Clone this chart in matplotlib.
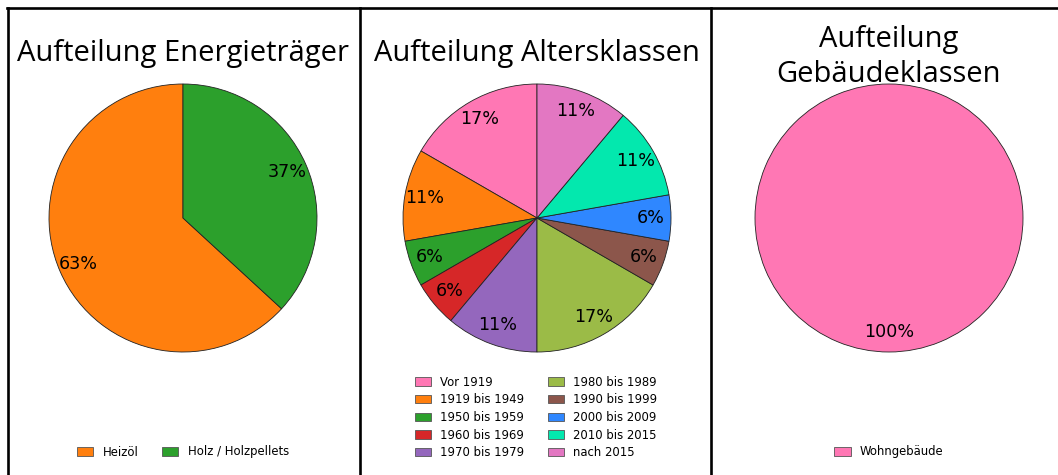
import matplotlib.pyplot as plt
from matplotlib.lines import Line2D
from matplotlib.patches import Patch

# Daten fuer die drei Kreisdiagramme
energie_labels = ['Heizöl', 'Holz / Holzpellets']
energie_werte = [12, 7]
energie_farben = ['#ff7f0e', '#2ca02c']

alter_labels = ['Vor 1919', '1919 bis 1949', '1950 bis 1959', '1960 bis 1969', '1970 bis 1979',
                '1980 bis 1989', '1990 bis 1999', '2000 bis 2009', '2010 bis 2015', 'nach 2015']
alter_werte = [3, 2, 1, 1, 2, 3, 1, 1, 2, 2]
alter_farben = ['#ff77b4', '#ff7f0e', '#2ca02c', '#d62728', '#9467bd',
                '#9bbb47', '#8c564b', '#2f87ff', '#03e8ae', '#e377c2']

gebaeude_labels = ['Wohngebäude']
gebaeude_werte = [1]
gebaeude_farben = ['#ff77b4']

W, H = 1058, 475
fig = plt.figure(figsize=(W / 100, H / 100), dpi=100)


def px(x, y):
    # Pixel (von oben links) -> Figure-Koordinaten
    return x / W, 1 - y / H


def kreis(links, werte, farben):
    ax = fig.add_axes([links / W, (H - 352) / H, 268 / W, 268 / H])
    ax.pie(werte, colors=farben, startangle=90, autopct='%1.0f%%', pctdistance=0.85,
           wedgeprops={'edgecolor': '#222222', 'linewidth': 0.6},
           textprops={'fontsize': 12.6, 'family': 'DejaVu Sans'})
    ax.set_xlim(-1.0, 1.0)
    ax.set_ylim(-1.0, 1.0)
    ax.set_aspect('equal')
    ax.axis('off')
    return ax


kreis(49, energie_werte, energie_farben)
kreis(403, alter_werte, alter_farben)
kreis(755, gebaeude_werte, gebaeude_farben)

titel = dict(fontsize=21, family='Open Sans', ha='center', va='baseline')
fig.text(*px(183, 61), 'Aufteilung Energieträger', **titel)
fig.text(*px(537, 61), 'Aufteilung Altersklassen', **titel)
fig.text(*px(889, 47), 'Aufteilung', **titel)
fig.text(*px(889, 82), 'Gebäudeklassen', **titel)

# Legenden unter den Diagrammen
leg = dict(loc='center', frameon=False, fontsize=8.4, handlelength=1.4, handleheight=0.7,
           columnspacing=2.0, handletextpad=0.8, labelspacing=0.4)


def legende(labels, farben, x, y, ncol):
    handles = [Patch(facecolor=f, edgecolor='#555555', linewidth=0.6) for f in farben]
    fig.legend(handles, labels, bbox_to_anchor=px(x, y), ncol=ncol, **leg)


legende(energie_labels, energie_farben, 183, 452, 2)
legende(alter_labels, alter_farben, 536, 417.5, 2)
legende(gebaeude_labels, gebaeude_farben, 889, 452, 1)

# Rahmenlinien
lw = 1.9
fig.add_artist(Line2D([7 / W, 1], [1 - 8 / H] * 2, color='black', lw=lw))
for xr in [7.5, 360, 711]:
    fig.add_artist(Line2D([xr / W] * 2, [0, 1 - 8 / H], color='black', lw=lw))

fig.savefig('out.png', dpi=100)
